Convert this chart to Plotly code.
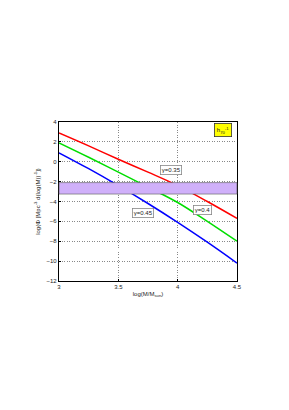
import plotly.graph_objects as go

logM = [3.0, 3.25, 3.5, 3.75, 4.0, 4.25, 4.5]
phi_035 = [2.9, 1.6, 0.25, -1.05, -2.4, -4.0, -5.7]
phi_040 = [1.9, 0.45, -1.05, -2.55, -4.1, -6.0, -8.0]
phi_045 = [0.9, -0.7, -2.4, -4.2, -6.1, -8.1, -10.2]
band = [-2.1, -3.25]
labels = ["γ=0.35", "γ=0.4", "γ=0.45"]
label_pos = [(3.94, -0.85), (4.21, -4.85), (3.71, -5.15)]

fig = go.Figure()
for y, c in [(phi_035, "#ff0000"), (phi_040, "#00dd00"), (phi_045, "#0000ff")]:
    fig.add_trace(go.Scatter(x=logM, y=y, mode="lines", line=dict(color=c, width=1.5, shape="spline"),
                             showlegend=False, hoverinfo="skip"))

fig.add_shape(type="rect", xref="paper", yref="y", x0=0, x1=1, y0=band[1], y1=band[0],
              fillcolor="#d0b0fa", line=dict(color="#555555", width=0.6), layer="above")

for t, (x, y) in zip(labels, label_pos):
    fig.add_annotation(x=x, y=y, text=t, showarrow=False, font=dict(size=6, color="#222"),
                       bgcolor="white", bordercolor="#888", borderwidth=0.8, borderpad=1)

fig.add_annotation(xref="paper", yref="paper", x=0.924, y=0.95, xanchor="center", yanchor="middle",
                   text="h<sub>70</sub><sup>-1</sup>",
                   showarrow=False, font=dict(size=6, color="#222"), bgcolor="#ffff00",
                   bordercolor="#333", borderwidth=0.8, borderpad=2)

axis_common = dict(showgrid=True, gridcolor="#888", griddash="1px,1.5px", gridwidth=0.5,
                   showline=True, linecolor="black", linewidth=1.2, mirror=True,
                   ticks="inside", ticklen=2, tickcolor="black", zeroline=False,
                   tickfont=dict(size=6, color="#222", family="Liberation Sans"))

fig.update_xaxes(range=[3, 4.5], tickvals=[3, 3.5, 4, 4.5], ticktext=["3", "3.5", "4", "4.5"],
                 title=dict(text="log(M/M<sub>sun</sub>)", font=dict(size=6, color="#222"), standoff=2),
                 **axis_common)
fig.update_yaxes(range=[-12, 4], tickvals=list(range(-12, 5, 2)),
                 title=dict(text="log(Φ [Mpc<sup>-3</sup> d(log(M))<sup>-1</sup>])", font=dict(size=6, color="#222"), standoff=5),
                 **axis_common)

fig.update_layout(width=281, height=402, margin=dict(l=51, r=52, t=114, b=129),
                  plot_bgcolor="white", paper_bgcolor="white",
                  font=dict(family="Liberation Sans"))

fig.write_html("out.html")
